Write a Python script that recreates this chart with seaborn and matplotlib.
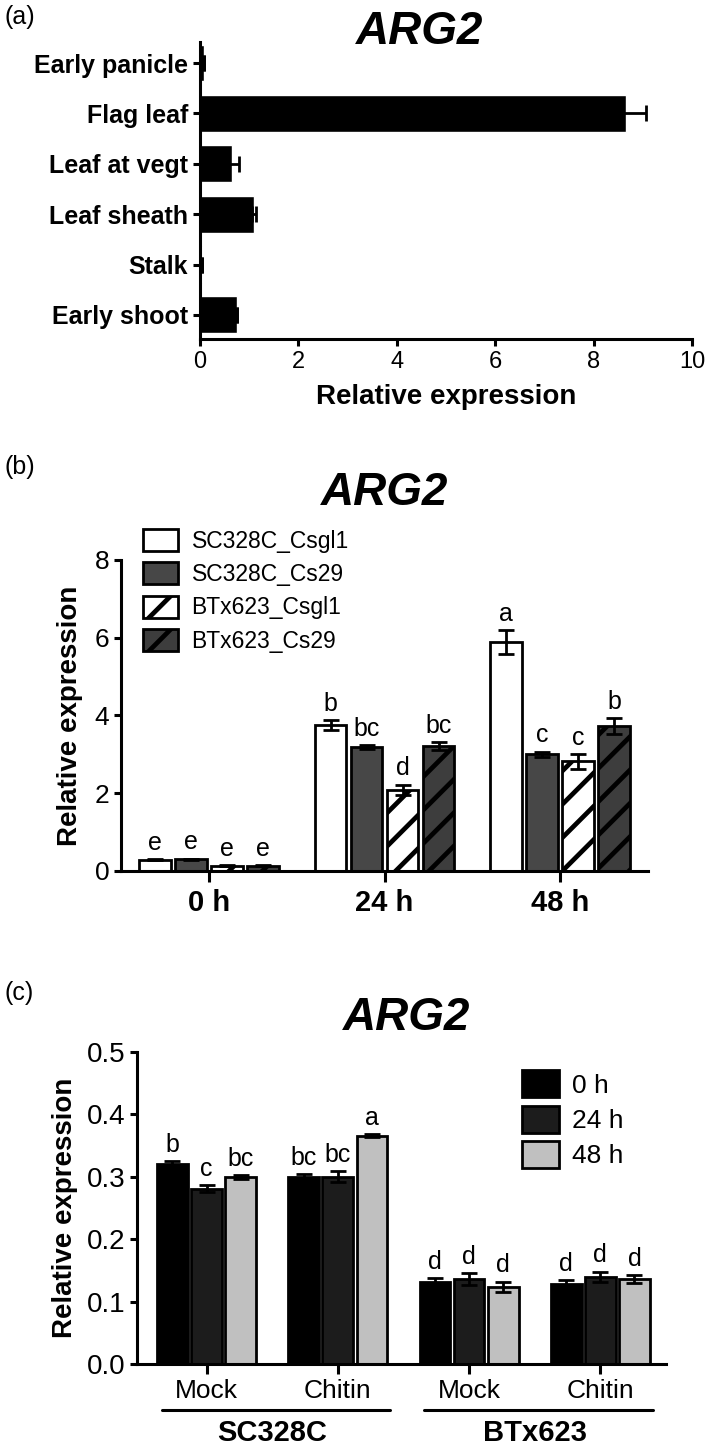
import seaborn as sns
import matplotlib.pyplot as plt
import numpy as np
import pandas as pd

sns.set_style("ticks")
plt.rcParams['font.family'] = ['Liberation Sans', 'DejaVu Sans']
plt.rcParams['hatch.linewidth'] = 3.4
for k in ['text.color', 'axes.labelcolor', 'xtick.color', 'ytick.color', 'axes.edgecolor']:
    plt.rcParams[k] = 'black'

# ---- panel (a): tissue expression
tissues = ["Early panicle", "Flag leaf", "Leaf at vegt", "Leaf sheath", "Stalk", "Early shoot"]
tissue_expr = [0.08, 8.66, 0.66, 1.10, 0.05, 0.76]
tissue_err = [0.0, 0.40, 0.13, 0.04, 0.0, 0.0]

# ---- panel (b): infection time course
times = ["0 h", "24 h", "48 h"]
lines_b = ["SC328C_Csgl1", "SC328C_Cs29", "BTx623_Csgl1", "BTx623_Cs29"]
sc_csgl1 = [0.29, 3.75, 5.88]
sc_cs29 = [0.30, 3.18, 3.00]
btx_csgl1 = [0.14, 2.09, 2.82]
btx_cs29 = [0.14, 3.22, 3.73]
sc_csgl1_err = [0.02, 0.13, 0.31]
sc_cs29_err = [0.02, 0.05, 0.07]
btx_csgl1_err = [0.02, 0.13, 0.19]
btx_cs29_err = [0.02, 0.10, 0.21]
sc_csgl1_lab = ["e", "b", "a"]
sc_cs29_lab = ["e", "bc", "c"]
btx_csgl1_lab = ["e", "d", "c"]
btx_cs29_lab = ["e", "bc", "b"]

# ---- panel (c): chitin treatment
groups_c = ["SC328C Mock", "SC328C Chitin", "BTx623 Mock", "BTx623 Chitin"]
treat_labels = ["Mock", "Chitin", "Mock", "Chitin"]
genotypes = ["SC328C", "BTx623"]
hours = ["0 h", "24 h", "48 h"]
h0 = [0.321, 0.300, 0.132, 0.128]
h24 = [0.281, 0.300, 0.136, 0.140]
h48 = [0.300, 0.366, 0.124, 0.136]
h0_err = [0.004, 0.004, 0.006, 0.007]
h24_err = [0.006, 0.009, 0.010, 0.008]
h48_err = [0.003, 0.003, 0.008, 0.007]
h0_lab = ["b", "bc", "d", "d"]
h24_lab = ["c", "bc", "d", "d"]
h48_lab = ["bc", "a", "d", "d"]

LW = 2.2


def style_axes(ax):
    sns.despine(ax=ax)
    for s in ["left", "bottom"]:
        ax.spines[s].set_linewidth(LW)
    ax.tick_params(width=LW, length=5, direction="out", colors="black")


def add_errors(ax, values, errs, letters=None, pad=4, size=18):
    # bars come out of seaborn one container per hue level
    for cont, vals, es, labs in zip(ax.containers, values, errs,
                                   letters if letters else [None] * len(values)):
        xs = [p.get_x() + p.get_width() / 2 for p in cont.patches]
        ax.errorbar(xs, vals, yerr=es, fmt="none", ecolor="black",
                    elinewidth=2, capsize=6, capthick=2, zorder=5)
        if labs:
            for x, v, e, l in zip(xs, vals, es, labs):
                ax.annotate(l, (x, v + e), xytext=(0, pad), textcoords="offset points",
                            ha="center", va="bottom", fontsize=size)


fig = plt.figure(figsize=(7.09, 14.47), dpi=100)

# ================= (a)
axa = fig.add_axes([0.2821, 0.7657, 0.6939, 0.2053])
df_a = pd.DataFrame({"tissue": tissues, "expr": tissue_expr})
sns.barplot(data=df_a, x="expr", y="tissue", orient="h", color="black",
            saturation=1, width=0.73, errorbar=None, ax=axa)
axa.errorbar(tissue_expr, range(len(tissues)), xerr=tissue_err, fmt="none",
             ecolor="black", elinewidth=2, capsize=6, capthick=2)
style_axes(axa)
axa.set_xlim(0, 10)
axa.set_xticks([0, 2, 4, 6, 8, 10])
axa.set_ylim(5.48, -0.42)
axa.set_ylabel("")
axa.set_xlabel("Relative expression", fontsize=20, fontweight="bold", labelpad=8)
axa.tick_params(axis="x", labelsize=17)
axa.tick_params(axis="y", labelsize=18)
for t in axa.get_yticklabels():
    t.set_fontweight("bold")
fig.text(0.006, 0.988, "(a)", fontsize=18, va="center")
fig.text(0.592, 0.978, "ARG2", fontsize=33, fontweight="bold", fontstyle="italic",
         ha="center", va="center")

# ================= (b)
axb = fig.add_axes([0.1707, 0.3981, 0.7433, 0.2149])
df_b = pd.DataFrame({
    "time": times * 4,
    "line": [l for l in lines_b for _ in times],
    "expr": sc_csgl1 + sc_cs29 + btx_csgl1 + btx_cs29,
})
pal_b = {"SC328C_Csgl1": "white", "SC328C_Cs29": "#474747",
         "BTx623_Csgl1": "white", "BTx623_Cs29": "#3d3d3d"}
sns.barplot(data=df_b, x="time", y="expr", hue="line", hue_order=lines_b,
            palette=pal_b, saturation=1, width=0.82, gap=0.12, errorbar=None,
            edgecolor="black", linewidth=2, legend=False, ax=axb)
for cont, h in zip(axb.containers, ["", "", "/", "/"]):
    for p in cont.patches:
        p.set_hatch(h)
add_errors(axb, [sc_csgl1, sc_cs29, btx_csgl1, btx_cs29],
           [sc_csgl1_err, sc_cs29_err, btx_csgl1_err, btx_cs29_err],
           [sc_csgl1_lab, sc_cs29_lab, btx_csgl1_lab, btx_cs29_lab], pad=3, size=18)
style_axes(axb)
axb.set_ylim(0, 8)
axb.set_yticks([0, 2, 4, 6, 8])
axb.set_xlim(-0.5, 2.5)
axb.set_xlabel("")
axb.set_ylabel("Relative expression", fontsize=20, fontweight="bold", labelpad=8)
axb.tick_params(axis="y", labelsize=19)
axb.tick_params(axis="x", labelsize=21, length=8, pad=5)
for t in axb.get_xticklabels():
    t.set_fontweight("bold")
axb.legend(axb.containers, lines_b, loc="upper left", bbox_to_anchor=(0.025, 1.13),
           frameon=False, fontsize=16.5, handlelength=1.5, handleheight=1.1,
           labelspacing=0.42, handletextpad=0.6, borderaxespad=0)
fig.text(0.006, 0.677, "(b)", fontsize=18, va="center")
fig.text(0.543, 0.6595, "ARG2", fontsize=33, fontweight="bold", fontstyle="italic",
         ha="center", va="center")

# ================= (c)
axc = fig.add_axes([0.1932, 0.0574, 0.7461, 0.2156])
df_c = pd.DataFrame({
    "group": groups_c * 3,
    "hour": [h for h in hours for _ in groups_c],
    "expr": h0 + h24 + h48,
})
pal_c = {"0 h": "#000000", "24 h": "#1c1c1c", "48 h": "#c0c0c0"}
sns.barplot(data=df_c, x="group", y="expr", hue="hour", hue_order=hours,
            palette=pal_c, saturation=1, width=0.78, gap=0.1, errorbar=None,
            edgecolor="black", linewidth=2, legend=False, ax=axc)
add_errors(axc, [h0, h24, h48], [h0_err, h24_err, h48_err],
           [h0_lab, h24_lab, h48_lab], pad=3, size=18)
style_axes(axc)
axc.set_ylim(0, 0.5)
axc.set_yticks([0.0, 0.1, 0.2, 0.3, 0.4, 0.5])
axc.yaxis.set_major_formatter(plt.FormatStrFormatter("%.1f"))
axc.set_xlim(-0.53, 3.5)
axc.set_xticks(range(len(groups_c)))
axc.set_xticklabels(treat_labels)
axc.set_xlabel("")
axc.set_ylabel("Relative expression", fontsize=20, fontweight="bold", labelpad=6)
axc.tick_params(axis="y", labelsize=20)
axc.tick_params(axis="x", labelsize=19, length=7, pad=4)
trans = axc.get_xaxis_transform()
for gi, g in enumerate(genotypes):
    x0 = 2 * gi - 0.34
    x1 = 2 * gi + 1.40
    axc.plot([x0, x1], [-0.147, -0.147], color="black", lw=2.2,
             transform=trans, clip_on=False)
    axc.text(2 * gi + 0.5, -0.222, g, transform=trans, ha="center", va="center",
             fontsize=21, fontweight="bold")
axc.legend(axc.containers, hours, loc="upper right", bbox_to_anchor=(0.94, 0.975),
           frameon=False, fontsize=19, handlelength=1.4, handleheight=1.2,
           labelspacing=0.3, handletextpad=0.5, borderaxespad=0)
fig.text(0.006, 0.314, "(c)", fontsize=18, va="center")
fig.text(0.574, 0.2965, "ARG2", fontsize=33, fontweight="bold", fontstyle="italic",
         ha="center", va="center")

fig.savefig("out.png", dpi=100)
